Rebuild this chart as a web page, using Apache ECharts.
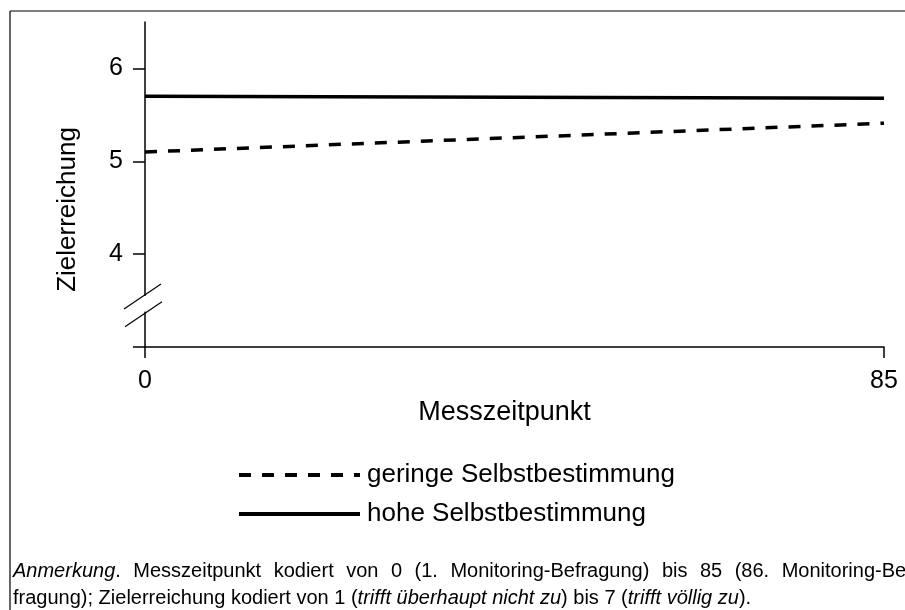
<!DOCTYPE html>
<html>
<head>
<meta charset="utf-8">
<script src="https://cdn.jsdelivr.net/npm/echarts@6/dist/echarts.min.js"></script>
<style>
  html, body { margin: 0; padding: 0; background: #fff; }
  #chart { width: 905px; height: 610px; }
</style>
</head>
<body>
<div id="chart"></div>
<script>
// Messzeitpunkt (x) und vorhergesagte Zielerreichung (y)
const messzeitpunkte = [0, 85]
const geringeSelbst = [5.10, 5.41]
const hoheSelbst = [5.70, 5.68]
const seriesNames = ['geringe Selbstbestimmung', 'hohe Selbstbestimmung']
const xTicks = [0, 85]
const yTicks = [3, 4, 5, 6]
const yLabels = [4, 5, 6]

const FONT = 'Liberation Sans'
const DASH = [12, 11]
const chart = echarts.init(document.getElementById('chart'))

const option = {
  animation: false,
  grid: { left: 145, right: 21, top: 22, bottom: 263, outerBoundsMode: 'none' },
  xAxis: {
    type: 'value',
    min: 0,
    max: 85,
    interval: 85,
    name: 'Messzeitpunkt',
    nameLocation: 'middle',
    nameGap: 41,
    nameTextStyle: { color: '#000', fontSize: 27, fontFamily: FONT, padding: [0, 20, 0, 0] },
    axisLine: { lineStyle: { color: '#000', width: 1.5 } },
    axisTick: { show: true, inside: false, length: 11, customValues: xTicks, lineStyle: { color: '#000', width: 1.5 } },
    axisLabel: { customValues: xTicks, margin: 22, color: '#000', fontSize: 25, fontFamily: FONT },
    splitLine: { show: false }
  },
  yAxis: {
    type: 'value',
    min: 3,
    max: 6.5,
    interval: 1,
    name: 'Zielerreichung',
    nameLocation: 'middle',
    nameRotate: 90,
    nameGap: 64,
    nameTextStyle: { color: '#000', fontSize: 26, fontFamily: FONT, padding: [0, 50, 0, 0] },
    axisLine: { show: true, lineStyle: { color: '#000', width: 1.5 } },
    axisTick: { show: true, inside: false, length: 12, customValues: yTicks, lineStyle: { color: '#000', width: 1.5 } },
    axisLabel: { customValues: yLabels, margin: 22, color: '#000', fontSize: 25, fontFamily: FONT },
    splitLine: { show: false }
  },
  legend: {
    orient: 'vertical',
    left: 232,
    top: 457,
    itemWidth: 121,
    itemHeight: 26,
    itemGap: 13,
    data: [
      { name: seriesNames[0], itemStyle: { opacity: 0 }, lineStyle: { color: '#000', width: 4, type: DASH } },
      { name: seriesNames[1], itemStyle: { opacity: 0 }, lineStyle: { color: '#000', width: 4, type: 'solid' } }
    ],
    textStyle: { color: '#000', fontSize: 26, fontFamily: FONT, lineHeight: 26, padding: [0, 0, 0, 2] }
  },
  series: [
    {
      name: seriesNames[0],
      type: 'line',
      symbol: 'none',
      data: messzeitpunkte.map((x, i) => [x, geringeSelbst[i]]),
      lineStyle: { color: '#000', width: 3.5, type: DASH },
      itemStyle: { color: '#000' }
    },
    {
      name: seriesNames[1],
      type: 'line',
      symbol: 'none',
      data: messzeitpunkte.map((x, i) => [x, hoheSelbst[i]]),
      lineStyle: { color: '#000', width: 3.5 },
      itemStyle: { color: '#000' }
    }
  ]
}

chart.setOption(option)

// Rahmen, Achsenbruch und Anmerkung
const axisX = chart.convertToPixel({ gridIndex: 0 }, [0, 4])[0]
const breakTop = chart.convertToPixel({ gridIndex: 0 }, [0, 3.56])[1]
const breakBottom = chart.convertToPixel({ gridIndex: 0 }, [0, 3.37])[1]

// erste Zeile im Blocksatz: breitere Wortabstände
const line1 = '{i|Anmerkung}. Messzeitpunkt kodiert von 0 (1. Monitoring-Befragung) bis 85 (86. Monitoring-Be'
  .split(' ').join('{sp| }')
const richStyles = {
  i: { fontStyle: 'italic', fontSize: 20, fontFamily: FONT, fill: '#000' },
  sp: { width: 12.5, fontSize: 20, fontFamily: FONT }
}

chart.setOption({
  graphic: [
    { type: 'line', shape: { x1: 10, y1: 11, x2: 905, y2: 11 }, style: { stroke: '#000', lineWidth: 1.2 }, silent: true },
    { type: 'line', shape: { x1: 10, y1: 11, x2: 10, y2: 610 }, style: { stroke: '#000', lineWidth: 1.2 }, silent: true },
    { type: 'rect', shape: { x: axisX - 3, y: breakTop + 1, width: 6, height: breakBottom - breakTop - 2 }, style: { fill: '#fff' }, z: 50, silent: true },
    { type: 'line', shape: { x1: axisX - 21, y1: breakTop + 14, x2: axisX + 16, y2: breakTop - 11 }, style: { stroke: '#000', lineWidth: 1.2 }, z: 51, silent: true },
    { type: 'line', shape: { x1: axisX - 20, y1: breakBottom + 14, x2: axisX + 17, y2: breakBottom - 11 }, style: { stroke: '#000', lineWidth: 1.2 }, z: 51, silent: true },
    {
      type: 'text', left: 13, top: 561, silent: true,
      style: { text: line1, fill: '#000', font: '20px "Liberation Sans"', rich: richStyles }
    },
    {
      type: 'text', left: 13, top: 588, silent: true,
      style: {
        text: 'fragung); Zielerreichung kodiert von 1 ({i|trifft überhaupt nicht zu}) bis 7 ({i|trifft völlig zu}).',
        fill: '#000', font: '20px "Liberation Sans"', rich: richStyles
      }
    }
  ]
})

window.addEventListener('resize', () => chart.resize())
</script>
</body>
</html>
